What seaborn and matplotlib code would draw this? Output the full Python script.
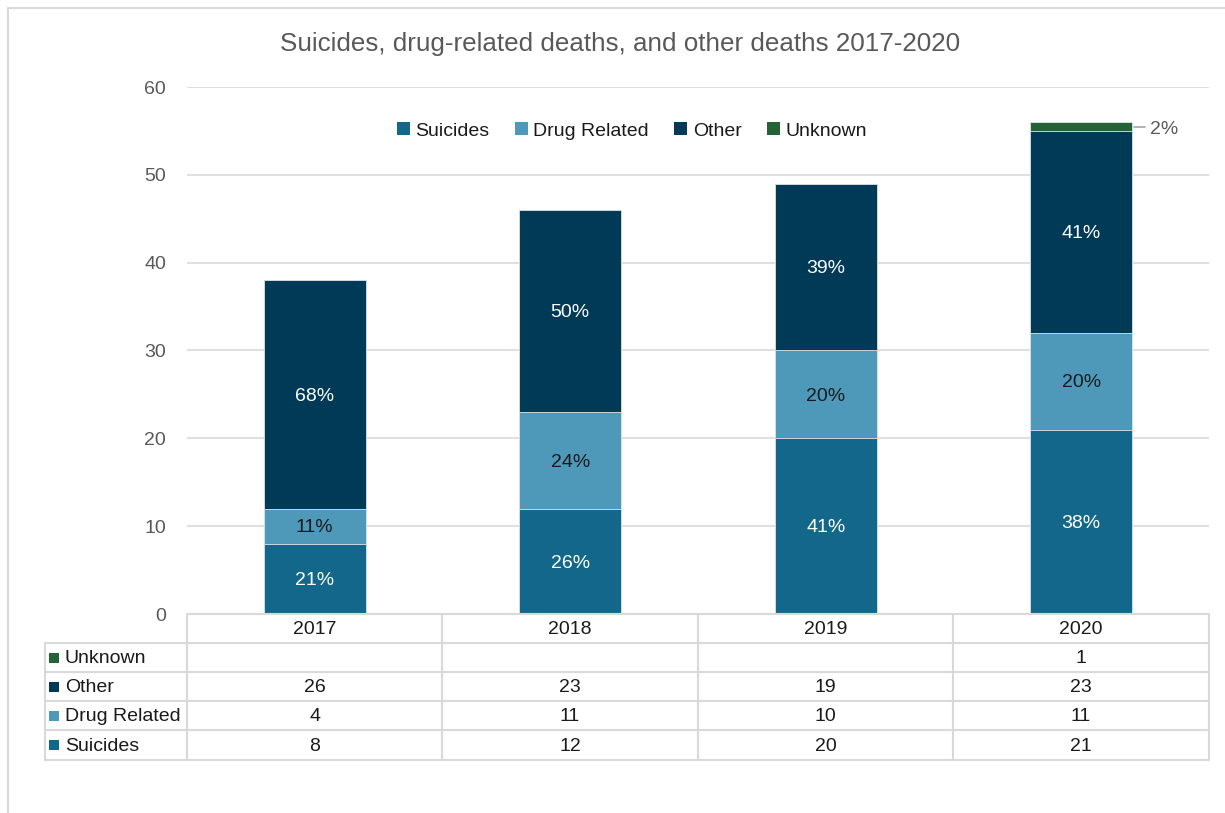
import numpy as np
import pandas as pd
import matplotlib
matplotlib.use("Agg")
import matplotlib.pyplot as plt
from matplotlib.patches import Patch, Rectangle
from matplotlib.lines import Line2D
import seaborn as sns

# Data
years = ["2017", "2018", "2019", "2020"]
suicides = [8, 12, 20, 21]
drug_related = [4, 11, 10, 11]
other = [26, 23, 19, 23]
unknown = [0, 0, 0, 1]

series_names = ["Suicides", "Drug Related", "Other", "Unknown"]
series_values = [suicides, drug_related, other, unknown]
colors = ["#13678A", "#4E98BA", "#003A57", "#236336"]
label_colors = ["white", "#1a1a1a", "white", "#595959"]

y_ticks = [0, 10, 20, 30, 40, 50, 60]

sns.set_theme(style="white")
plt.rcParams["font.family"] = ["Liberation Sans", "DejaVu Sans"]

FS = 14

W, H = 1225, 813
fig = plt.figure(figsize=(W / 100, H / 100), dpi=100)

def fx(px):
    return px / W

def fy(py):
    return 1 - py / H

ax_left, ax_right, ax_top, ax_bottom = 187, 1209, 87, 614
ax = fig.add_axes([fx(ax_left), fy(ax_bottom), fx(ax_right - ax_left), fy(ax_top) - fy(ax_bottom)])

values = np.array(series_values, dtype=float)
cum = np.cumsum(values, axis=0)
totals = cum[-1]

# Stacked bars: draw cumulative heights from the top layer down
for i in range(len(series_names) - 1, -1, -1):
    d = pd.DataFrame({"Year": years, "h": cum[i]})
    sns.barplot(data=d, x="Year", y="h", color=colors[i], width=0.4,
                saturation=1, edgecolor="#dfe6ea", linewidth=0.6, ax=ax, zorder=3)

# Percentage labels
for i, name in enumerate(series_names):
    for j in range(len(years)):
        v = values[i, j]
        if v <= 0:
            continue
        pct = f"{round(v / totals[j] * 100):.0f}%"
        bottom = cum[i, j] - v
        if name == "Unknown":
            yc = bottom + v / 2
            ax.plot([j + 0.205, j + 0.25], [yc, yc], color="#a6a6a6", lw=1.2, zorder=4, clip_on=False)
            ax.text(j + 0.27, yc - 0.35, pct, ha="left", va="center", fontsize=FS,
                    color=label_colors[i], zorder=5)
        else:
            ax.text(j, bottom + v / 2 - 0.2, pct, ha="center", va="center", fontsize=FS,
                    color=label_colors[i], zorder=5)

ax.set_xlim(-0.5, len(years) - 0.5)
ax.set_ylim(0, 60)
ax.set_yticks(y_ticks)
ax.set_yticklabels([str(t) for t in y_ticks], fontsize=FS, color="#595959")
ax.tick_params(axis="y", length=0, pad=15)
ax.set_xticks([])
ax.set_xlabel("")
ax.set_ylabel("")
ax.yaxis.grid(True, color="#d9d9d9", linewidth=1.2, zorder=0)
ax.set_axisbelow(True)
for s in ax.spines.values():
    s.set_visible(False)
if ax.get_legend() is not None:
    ax.get_legend().remove()

# Title
fig.text(fx(620), fy(44), "Suicides, drug-related deaths, and other deaths 2017-2020",
         ha="center", va="center", fontsize=18.7, color="#595959")

# Legend
handles = [Patch(facecolor=c, edgecolor="none") for c in colors]
fig.legend(handles, series_names, loc="center", bbox_to_anchor=(fx(632), fy(131)),
           ncol=4, frameon=False, fontsize=FS, handlelength=0.65, handleheight=0.65,
           handletextpad=0.3, columnspacing=1.3, labelcolor="#1a1a1a")

# Data table below the plot
line_c = "#d9d9d9"
lw = 1.5
col_edges = [187, 442, 698, 953, 1209]
row_edges = [614, 643, 672, 701, 730, 760]
table_left = 45
table_rows = ["Unknown", "Other", "Drug Related", "Suicides"]

def hline(y, x0, x1):
    fig.add_artist(Line2D([fx(x0), fx(x1)], [fy(y), fy(y)], color=line_c, lw=lw))

def vline(x, y0, y1):
    fig.add_artist(Line2D([fx(x), fx(x)], [fy(y0), fy(y1)], color=line_c, lw=lw))

hline(row_edges[0], col_edges[0], col_edges[-1])
for y in row_edges[1:]:
    hline(y, table_left, col_edges[-1])
for x in col_edges:
    vline(x, row_edges[0], row_edges[-1])
vline(table_left, row_edges[1], row_edges[-1])

# Header row with years
for j, yr in enumerate(years):
    xc = (col_edges[j] + col_edges[j + 1]) / 2
    yc = (row_edges[0] + row_edges[1]) / 2
    fig.text(fx(xc), fy(yc + 1), yr, ha="center", va="center", fontsize=FS, color="#1a1a1a")

# Series rows
for r, name in enumerate(table_rows):
    i = series_names.index(name)
    yc = (row_edges[r + 1] + row_edges[r + 2]) / 2
    fig.add_artist(Rectangle((fx(49), fy(yc + 5)), fx(10), fy(yc - 5) - fy(yc + 5),
                             facecolor=colors[i], edgecolor="none"))
    fig.text(fx(65), fy(yc + 1), name, ha="left", va="center", fontsize=FS, color="#1a1a1a")
    for j in range(len(years)):
        v = series_values[i][j]
        if v == 0:
            continue
        xc = (col_edges[j] + col_edges[j + 1]) / 2
        fig.text(fx(xc), fy(yc + 1), str(v), ha="center", va="center", fontsize=FS, color="#1a1a1a")

# Chart area border
fig.add_artist(Line2D([fx(8), fx(W + 5)], [fy(8), fy(8)], color="#d9d9d9", lw=1.5))
fig.add_artist(Line2D([fx(8), fx(8)], [fy(8), fy(H + 5)], color="#d9d9d9", lw=1.5))

fig.savefig("out.png", dpi=100, facecolor="white")
